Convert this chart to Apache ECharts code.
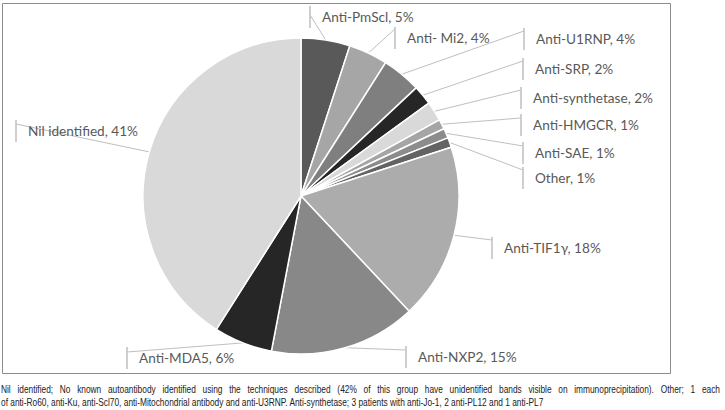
<!DOCTYPE html>
<html>
<head>
<meta charset="utf-8">
<script src="https://cdn.jsdelivr.net/npm/echarts@6/dist/echarts.min.js"></script>
<style>
html,body{margin:0;padding:0;background:#fff;}
#c{width:725px;height:410px;}
</style>
</head>
<body>
<div id="c"></div>
<script>
// Data (percent of patients)
const categories = ['Anti-PmScl', 'Anti- Mi2', 'Anti-U1RNP', 'Anti-SRP', 'Anti-synthetase', 'Anti-HMGCR', 'Anti-SAE', 'Other', 'Anti-TIF1\u03b3', 'Anti-NXP2', 'Anti-MDA5', 'Nil identified'];
const values = [5, 4, 4, 2, 2, 1, 1, 1, 18, 15, 6, 41];
const footnoteLines = [
  'Nil identified; No known autoantibody identified using the techniques described (42% of this group have unidentified bands visible on immunoprecipitation). Other; 1 each',
  'of anti-Ro60, anti-Ku, anti-Scl70, anti-Mitochondrial antibody and anti-U3RNP. Anti-synthetase; 3 patients with anti-Jo-1, 2 anti-PL12 and 1 anti-PL7'
];

// Styling / layout (not data)
const sliceColors = ['#595959', '#a6a6a6', '#7f7f7f', '#262626', '#d9d9d9', '#a5a5a5', '#8c8c8c', '#636363', '#acacac', '#888888', '#262626', '#d9d9d9'];
// [label left x, label centre y, leader line end y]
const labelPos = [[310, 17, 15], [395, 38, 29], [524, 39, 31], [523, 69, 61], [521, 98, 90], [521, 125, 118], [523, 153, 146], [523, 178, 170], [492, 248, 240], [406, 357, 350], [127, 358, 352], [16, 131, 124]];

const chart = echarts.init(document.getElementById('c'), null, {renderer: 'svg'});
const data = categories.map((name, i) => ({name: name, value: values[i], itemStyle: {color: sliceColors[i]}}));
const footFont = '10.5px "Liberation Sans", sans-serif';
const footScale = 0.795;

// Justified first footnote line (word by word), second line left-aligned
const measure = document.createElement('canvas').getContext('2d');
measure.font = footFont;
const footGraphics = [];
(function () {
  const words = footnoteLines[0].split(' ');
  const widths = words.map(w => measure.measureText(w).width * footScale);
  const total = widths.reduce((a, b) => a + b, 0);
  const startX = 1, endX = 720;
  const gap = (endX - startX - total) / (words.length - 1);
  let x = startX;
  words.forEach((w, i) => {
    footGraphics.push({type: 'text', x: x, y: 384, scaleX: footScale, style: {text: w, font: footFont, fill: '#222'}});
    x += widths[i] + gap;
  });
  footGraphics.push({type: 'text', x: startX, y: 397, scaleX: footScale, style: {text: footnoteLines[1], font: footFont, fill: '#222'}});
})();

chart.setOption({
  animation: false,
  backgroundColor: '#fff',
  graphic: [
    {type: 'rect', shape: {x: 2.5, y: 3.5, width: 668, height: 370}, style: {fill: 'none', stroke: '#8c8c8c', lineWidth: 1}, silent: true}
  ].concat(footGraphics),
  series: [{
    type: 'pie',
    center: [301, 196],
    radius: 158,
    startAngle: 90,
    clockwise: true,
    avoidLabelOverlap: false,
    emphasis: {disabled: true},
    itemStyle: {borderColor: '#fff', borderWidth: 1.5},
    label: {
      show: true,
      position: 'outside',
      formatter: p => '{bar|}{gap|}{t|' + p.name + ', ' + p.value + '%}',
      rich: {
        bar: {width: 0, height: 22, borderColor: '#bfbfbf', borderWidth: 0.5, backgroundColor: '#bfbfbf'},
        gap: {width: 12},
        t: {fontFamily: 'Lato, "Open Sans", sans-serif', fontSize: 13.6, color: '#595959'}
      }
    },
    labelLine: {show: true, length: 10, length2: 0, lineStyle: {color: '#bfbfbf', width: 1}},
    labelLayout: params => {
      const p = labelPos[params.dataIndex];
      const start = params.labelLinePoints[0];
      const end = [p[0], p[2]];
      return {x: p[0], y: p[1], align: 'left', verticalAlign: 'middle', labelLinePoints: [start, end, end]};
    },
    data: data
  }]
});
</script>
</body>
</html>
